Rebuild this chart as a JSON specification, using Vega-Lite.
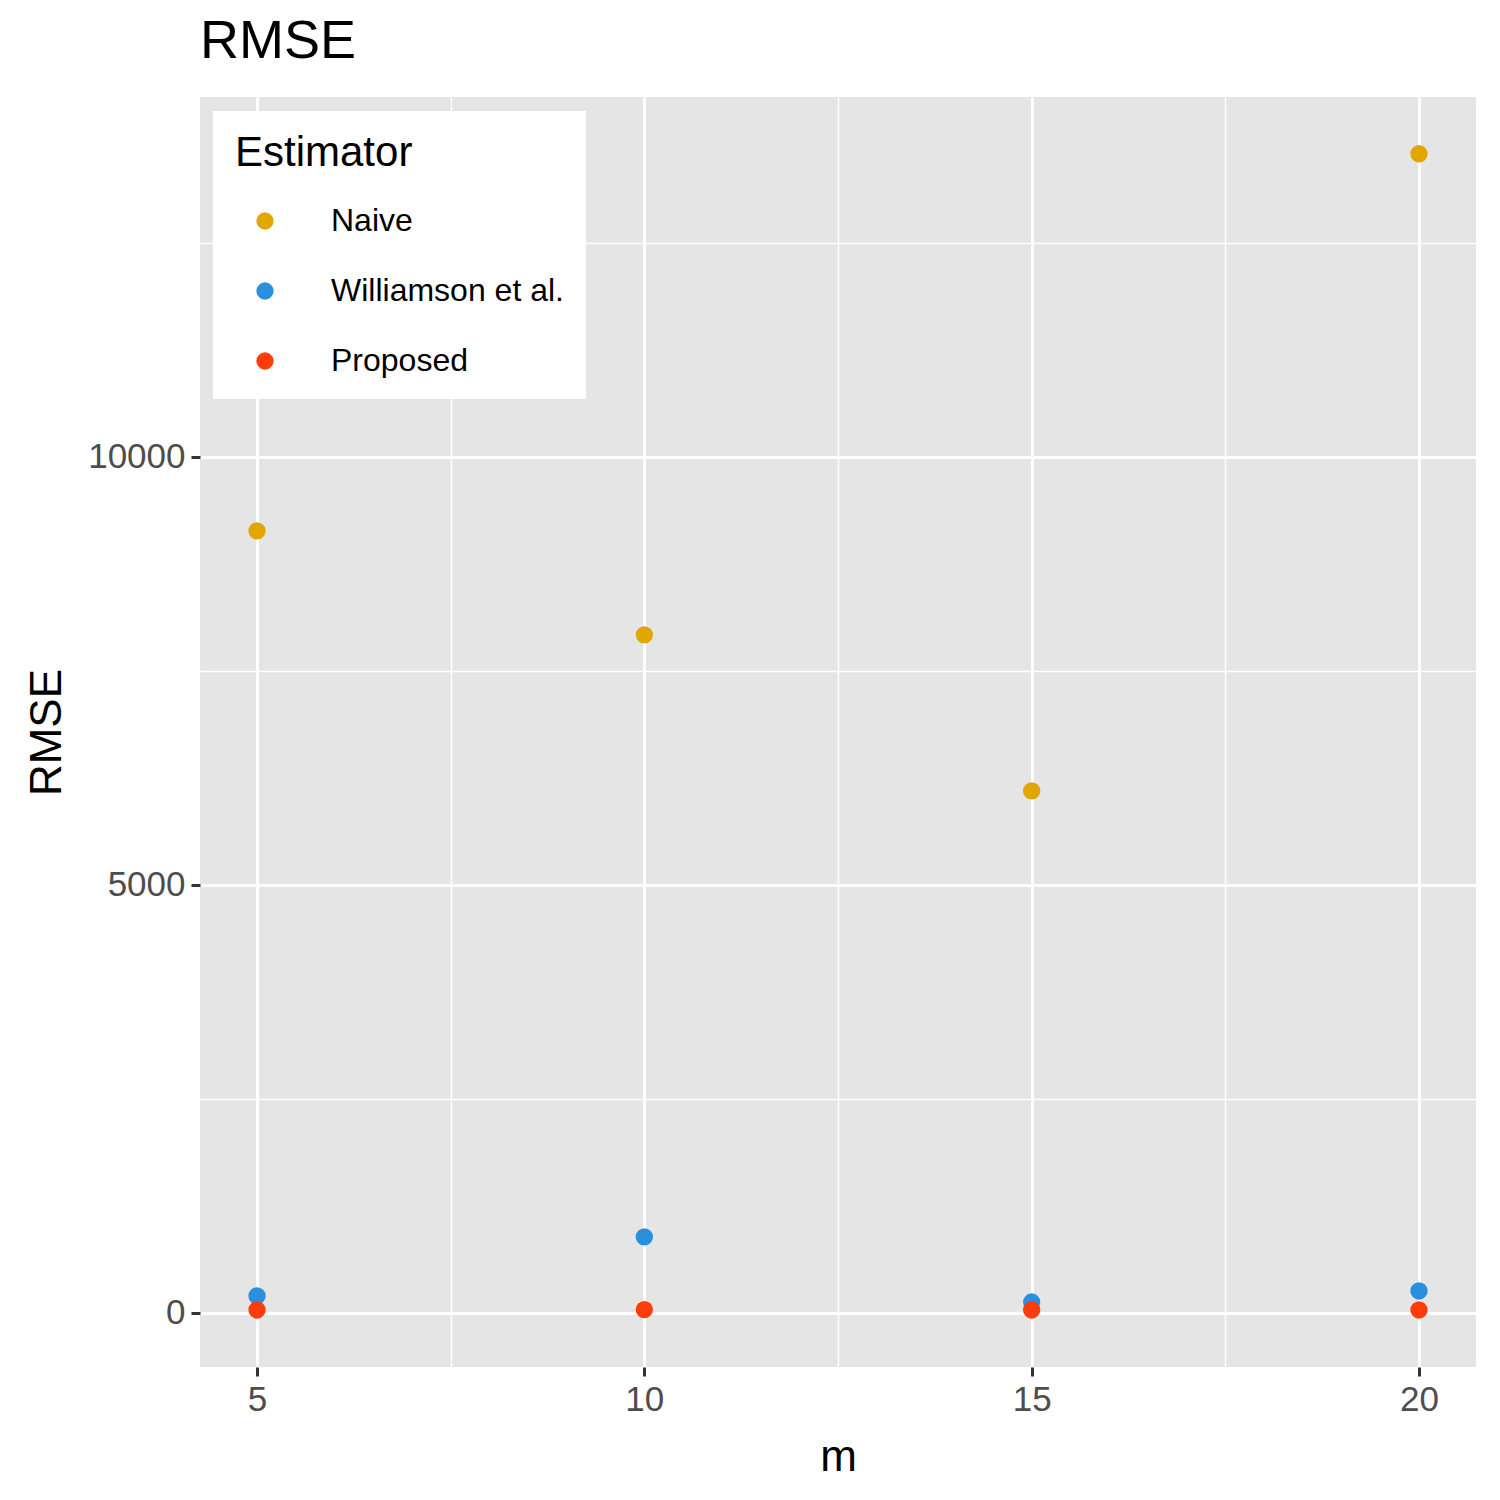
{
  "$schema": "https://vega.github.io/schema/vega-lite/v6.json",
  "autosize": "none",
  "width": 1276,
  "height": 1270,
  "padding": {"left": 200, "top": 97, "right": 24, "bottom": 133},
  "background": "white",
  "title": {"text": "RMSE", "anchor": "start", "frame": "group", "fontSize": 54, "font": "Liberation Sans", "fontWeight": "normal", "color": "black", "offset": 28},
  "data": {
    "values": [
      {"m": 5, "rmse": 9136, "est": "Naive"},
      {"m": 10, "rmse": 7921, "est": "Naive"},
      {"m": 15, "rmse": 6098, "est": "Naive"},
      {"m": 20, "rmse": 13540, "est": "Naive"},
      {"m": 5, "rmse": 199, "est": "Williamson et al."},
      {"m": 10, "rmse": 888, "est": "Williamson et al."},
      {"m": 15, "rmse": 128, "est": "Williamson et al."},
      {"m": 20, "rmse": 257, "est": "Williamson et al."},
      {"m": 5, "rmse": 35, "est": "Proposed"},
      {"m": 10, "rmse": 40, "est": "Proposed"},
      {"m": 15, "rmse": 35, "est": "Proposed"},
      {"m": 20, "rmse": 35, "est": "Proposed"}
    ]
  },
  "mark": {"type": "point", "filled": true, "opacity": 1, "size": 300},
  "encoding": {
    "x": {
      "field": "m", "type": "quantitative", "title": "m",
      "scale": {"domain": [4.264, 20.736], "nice": false, "zero": false},
      "axis": {
        "values": [5, 7.5, 10, 12.5, 15, 17.5, 20],
        "labelExpr": "datum.value % 5 === 0 ? datum.label : ''",
        "tickOpacity": {"condition": {"test": "datum.value % 5 === 0", "value": 1}, "value": 0},
        "gridWidth": {"condition": {"test": "datum.value % 5 === 0", "value": 3}, "value": 1.5}
      }
    },
    "y": {
      "field": "rmse", "type": "quantitative", "title": "RMSE",
      "scale": {"domain": [-631, 14203], "nice": false, "zero": false},
      "axis": {
        "values": [0, 2500, 5000, 7500, 10000, 12500],
        "labelExpr": "datum.value % 5000 === 0 ? datum.value : ''",
        "tickOpacity": {"condition": {"test": "datum.value % 5000 === 0", "value": 1}, "value": 0},
        "gridWidth": {"condition": {"test": "datum.value % 5000 === 0", "value": 3}, "value": 1.5}
      }
    },
    "color": {
      "field": "est", "type": "nominal", "title": "Estimator",
      "scale": {"domain": ["Naive", "Williamson et al.", "Proposed"], "range": ["#E1A600", "#2A8FDD", "#FF3D0A"]},
      "legend": {
        "orient": "none", "legendX": 13, "legendY": 14,
        "fillColor": "white", "padding": 22,
        "titleFontSize": 42, "titleFont": "Liberation Sans", "titleFontWeight": "normal", "titleColor": "black", "titlePadding": 30,
        "labelFontSize": 32, "labelFont": "Liberation Sans", "labelColor": "black", "labelOffset": 50, "labelLimit": 400,
        "symbolSize": 300, "symbolOpacity": 1, "rowPadding": 38, "symbolStrokeWidth": 0, "symbolOffset": 14
      }
    }
  },
  "config": {
    "view": {"fill": "#E5E5E5", "stroke": null},
    "axis": {
      "domain": false, "gridColor": "white", "tickColor": "#333333", "tickSize": 9, "tickWidth": 3,
      "labelFontSize": 35, "labelFont": "Liberation Sans", "labelColor": "#4D4D4D", "labelPadding": 6,
      "titleFontSize": 44, "titleFont": "Liberation Sans", "titleFontWeight": "normal", "titleColor": "black", "titlePadding": 18
    }
  }
}
